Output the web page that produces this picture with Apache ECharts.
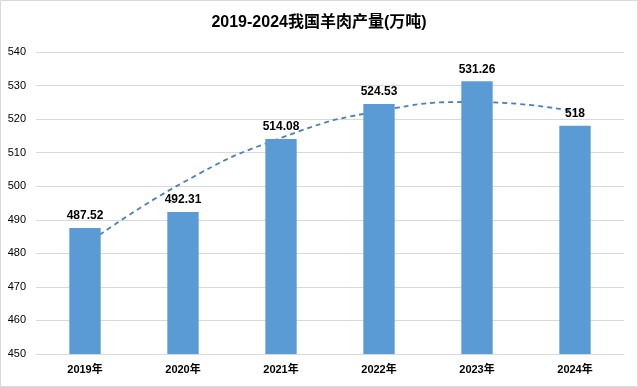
<!DOCTYPE html>
<html><head><meta charset="utf-8">
<script src="https://cdn.jsdelivr.net/npm/echarts@6/dist/echarts.min.js"></script>
<style>html,body{margin:0;padding:0;background:#fff}#c{width:638px;height:387px}</style>
</head><body><div id="c"></div>
<script>
var categories = ['2019年','2020年','2021年','2022年','2023年','2024年'];
var production = [487.52, 492.31, 514.08, 524.53, 531.26, 518];
// dashed trend curve, values at each category
var trendValues = [482.4, 501.1, 514.4, 522.4, 525.1, 522.3];
var yTicks = {min: 450, max: 540, interval: 10};
var titleText = '2019-2024我国羊肉产量(万吨)';

var font = '"Liberation Sans", "Noto Sans CJK SC", sans-serif';
var chart = echarts.init(document.getElementById('c'));
chart.setOption({
  animation: false,
  backgroundColor: '#fff',
  title: {text: titleText, left: 'center', top: 10,
    textStyle: {fontFamily: font, fontSize: 16, fontWeight: 'bold', color: '#000'}},
  graphic: [{type: 'rect', shape: {x: 0.5, y: 0.5, width: 637, height: 386},
    style: {fill: 'none', stroke: '#d9d9d9', lineWidth: 1}, z: 100}],
  grid: {left: 36, right: 14, top: 52, bottom: 33},
  xAxis: {type: 'category', data: categories,
    axisLine: {lineStyle: {color: '#d9d9d9'}}, axisTick: {show: false},
    axisLabel: {color: '#000', fontFamily: font, fontSize: 11, fontWeight: 'bold', margin: 10}},
  yAxis: {type: 'value', min: yTicks.min, max: yTicks.max, interval: yTicks.interval,
    axisLine: {show: false}, axisTick: {show: false},
    splitLine: {lineStyle: {color: '#d9d9d9'}},
    axisLabel: {color: '#000', fontFamily: font, fontSize: 11, margin: 10}},
  series: [
    {type: 'line', data: trendValues, smooth: true, symbol: 'none', z: 1,
      lineStyle: {color: '#4a7fc1', width: 1.8, type: [5, 4]}},
    {type: 'bar', data: production, barWidth: '32%', z: 2,
      itemStyle: {color: '#5b9bd5'},
      label: {show: true, position: 'top', distance: 6, color: '#000',
        fontFamily: font, fontSize: 12, fontWeight: 'bold'}}
  ]
});
</script></body></html>
